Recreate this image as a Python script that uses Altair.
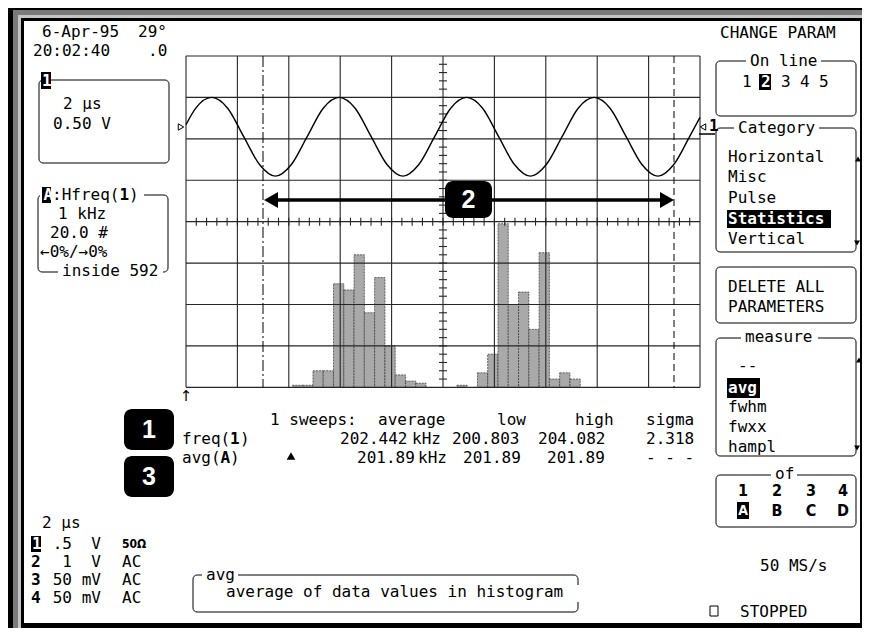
import altair as alt
import pandas as pd

# ---------------- values ----------------
# trace 1 : time in µs (2 µs/div) and amplitude in V (0.50 V/div)
trace_us = [0.00, 0.38, 1.00, 1.62, 2.24, 2.86, 3.48, 4.10, 4.72, 5.34, 5.96, 6.58, 7.20, 7.82,
            8.44, 9.06, 9.68, 10.30, 10.92, 11.54, 12.16, 12.78, 13.40, 14.02, 14.64, 15.26,
            15.88, 16.50, 17.12, 17.74, 18.36, 18.98, 19.60, 20.00]
trace_v = [0.17, 0.37, 0.50, 0.37, 0.03, -0.31, -0.45, -0.31, 0.03, 0.37, 0.50, 0.37, 0.03, -0.31,
           -0.45, -0.31, 0.03, 0.37, 0.50, 0.37, 0.03, -0.31, -0.45, -0.31, 0.03, 0.37,
           0.50, 0.37, 0.03, -0.31, -0.45, -0.31, 0.03, 0.26]

# histogram A = Hfreq(1): bin start (divisions), population (# , 20 #/div)
hist_bin = [2.07, 2.27, 2.47, 2.67, 2.87, 3.07, 3.27, 3.47, 3.67, 3.87, 4.07, 4.27, 4.47,
            5.27, 5.67, 5.87, 6.07, 6.27, 6.47, 6.67, 6.87, 7.07, 7.27, 7.47]
hist_count = [1, 1, 8, 8, 50, 47, 64, 36, 53, 20, 6, 3, 2,
              1, 7, 16, 79, 40, 46, 28, 65, 4, 7, 4]
BIN_W = 0.2

# statistics table
stat_header = ["1 sweeps:", "average", "low", "high", "sigma"]
freq_row = ["202.442", "kHz", "200.803", "204.082", "2.318"]
avg_row = ["201.89", "kHz", "201.89", "201.89", "- - -"]

# channel setup
ch_num = ["1", "2", "3", "4"]
ch_val = [".5", "1", "50", "50"]
ch_unit = ["V", "V", "mV", "mV"]
ch_cpl = ["50Ω", "AC", "AC", "AC"]

category_items = ["Horizontal", "Misc", "Pulse", "Statistics", "Vertical"]
measure_items = ["--", "avg", "fwhm", "fwxx", "hampl"]

# ---------------- layout (screen pixels) ----------------
FONT = "DejaVu Sans Mono"
SANS = "Liberation Sans, Arial, DejaVu Sans"
NARROW = "Liberation Sans Narrow, DejaVu Sans Condensed, DejaVu Sans"
GX0, GX1, GY0, GY1 = 186.0, 700.0, 56.0, 387.33
DX, DY = (GX1 - GX0) / 10, (GY1 - GY0) / 8
GMID = GY0 + 4 * DY
XC = GX0 + 5 * DX
ROW_H, ROW_F, ROW_A = 420, 439, 458

PX = alt.Scale(domain=[0, 870], range=[-8, 862], nice=False, zero=False)
PY = alt.Scale(domain=[0, 636], range=[-8, 628], nice=False, zero=False)


def enc_xy(extra2=False):
    d = dict(x=alt.X("x:Q", scale=PX, axis=None), y=alt.Y("y:Q", scale=PY, axis=None))
    if extra2:
        d["x2"] = alt.X2("x2:Q")
        d["y2"] = alt.Y2("y2:Q")
    return d


def boxes(rows, radius=0, sw=1.0):
    df = pd.DataFrame(rows, columns=["x", "y", "x2", "y2", "fill", "stroke"])
    return alt.Chart(df).mark_rect(cornerRadius=radius, strokeWidth=sw).encode(
        fill=alt.Fill("fill:N", scale=None), stroke=alt.Stroke("stroke:N", scale=None),
        **enc_xy(True))


def lines(rows, color="#000", width=1.0, dash=None):
    df = pd.DataFrame(rows, columns=["x", "y", "x2", "y2"])
    kw = dict(color=color, strokeWidth=width)
    if dash:
        kw["strokeDash"] = dash
    return alt.Chart(df).mark_rule(**kw).encode(**enc_xy(True))


def labels(rows, size=16, weight="normal", color="#000", align="left", font=FONT):
    df = pd.DataFrame(rows, columns=["x", "y", "t"])
    return alt.Chart(df).mark_text(font=font, fontSize=size, fontWeight=weight, color=color,
                                   align=align, baseline="middle").encode(
        text="t:N", **enc_xy())


def symbols(rows, shape, size, filled=True, color="#000"):
    df = pd.DataFrame(rows, columns=["x", "y"])
    return alt.Chart(df).mark_point(shape=shape, size=size, filled=filled, color=color,
                                    opacity=1, strokeWidth=1).encode(**enc_xy())


W, B = "#ffffff", "#000000"
T = "transparent"
layers = []

# frame of the screen
layers.append(boxes([
    (8, 5, 870, 636, B, T),
    (13, 10, 870, 636, "#7a7a7a", T),
    (18, 15, 870, 636, "#c4c4c4", T),
    (21, 18, 866, 630, B, T),
    (24, 21, 860, 623, W, T),
]))

# histogram (drawn under the graticule)
hist_df = pd.DataFrame({"lo": hist_bin, "hi": [b + BIN_W for b in hist_bin], "n": hist_count})
layers.append(alt.Chart(hist_df).mark_rect(fill="#a9a9a9", stroke="#2e2e2e", strokeWidth=0.7,
                                           strokeDash=[2, 1]).encode(
    x=alt.X("lo:Q", scale=alt.Scale(domain=[0, 10], range=[GX0 - 8, GX1 - 8], nice=False, zero=False), axis=None),
    x2="hi:Q",
    y=alt.Y("n:Q", scale=alt.Scale(domain=[0, 80], range=[GY1 - 8, GMID - 8], nice=False, zero=False), axis=None),
    y2=alt.datum(0),
))

# graticule
grid = [(GX0 + i * DX, GY0, GX0 + i * DX, GY1) for i in range(11)]
grid += [(GX0, GY0 + j * DY, GX1, GY0 + j * DY) for j in range(9)]
layers.append(lines(grid, color="#262626", width=1.1))
ticks = [(XC - 4, GY0 + k * DY / 5, XC + 4, GY0 + k * DY / 5) for k in range(1, 40)]
ticks += [(GX0 + k * DX / 5, GMID - 4, GX0 + k * DX / 5, GMID + 4) for k in range(1, 50)]
layers.append(lines(ticks, color="#262626", width=1.1))

# trace 1
layers.append(alt.Chart(pd.DataFrame({"t": trace_us, "v": trace_v})).mark_line(
    color="#000", strokeWidth=1.4, interpolate="monotone").encode(
    x=alt.X("t:Q", scale=alt.Scale(domain=[0, 20], range=[GX0 - 8, GX1 - 8], nice=False, zero=False), axis=None),
    y=alt.Y("v:Q", scale=alt.Scale(domain=[-1, 1], range=[GMID - 8, GY0 - 8], nice=False, zero=False), axis=None),
))

# cursors and the span arrow
layers.append(lines([(263, GY0, 263, GY1)], width=1, dash=[11, 3, 2, 3]))
layers.append(lines([(674, GY0, 674, GY1)], width=1, dash=[7, 4]))
layers.append(lines([(274, 200, 664, 200)], width=3.5))
layers.append(symbols([(271, 200)], "triangle-left", 260))
layers.append(symbols([(667, 200)], "triangle-right", 260))

# trigger / level markers
layers.append(symbols([(181, 127)], "triangle-right", 40, filled=False))
layers.append(symbols([(703, 127)], "triangle-left", 40, filled=False))
layers.append(lines([(699, 134, 715, 134)], width=1.5))
layers.append(labels([(186, 396, "↑")], size=15, align="center", font="DejaVu Sans"))

# boxes with rounded corners
layers.append(boxes([
    (39, 80, 169, 163, T, B),
    (38, 195, 168, 272, T, B),
    (716, 61, 856, 116, T, B),
    (716, 128, 856, 252, T, B),
    (716, 267, 856, 323, T, B),
    (716, 338, 856, 456, T, B),
    (716, 475, 856, 527, T, B),
    (193, 575, 578, 612, T, B),
], radius=4))
# title gaps in the borders
layers.append(boxes([
    (40, 186, 144, 203, W, T),
    (58, 265, 163, 279, W, T),
    (746, 54, 821, 68, W, T),
    (734, 121, 819, 135, W, T),
    (741, 330, 818, 344, W, T),
    (771, 467, 797, 481, W, T),
    (202, 568, 238, 582, W, T),
    (575, 585, 581, 602, W, T),
]))
# inverse-video cells
layers.append(boxes([
    (41, 72, 51, 89, B, T),
    (42, 187, 51, 203, B, T),
    (759, 74, 771, 90, B, T),
    (727, 210, 831, 228, B, T),
    (727, 378, 760, 398, B, T),
    (737, 502, 749, 519, B, T),
    (31, 536, 41, 552, B, T),
]))
layers.append(boxes([(710, 606, 718, 616, W, B)]))
# numbered call-outs
layers.append(boxes([
    (124, 409, 174, 450, B, T),
    (124, 456, 174, 497, B, T),
    (445, 181, 492, 218, B, T),
], radius=8))
layers.append(labels([(149, 430, "1"), (149, 477, "3"), (468.5, 200, "2")],
                     size=25, weight="bold", color=W, align="center", font=SANS))

# plain text
mono = [
    ("6-Apr-95", 42, 32), ("29°", 138, 32), ("20:02:40", 33, 51), (".0", 148, 51),
    ("2 µs", 63, 104), ("0.50 V", 53, 124),
    (":Hfreq(", 52, 195), (")", 129, 195),
    ("1 kHz", 58, 214), ("20.0 #", 50, 233), ("←0%/→0%", 40, 252), ("inside 592", 62, 271),
    ("freq(", 182, ROW_F), (")", 240, ROW_F), ("avg(", 182, ROW_A), (")", 230, ROW_A),
    ("2 µs", 42, 523),
    ("avg", 206, 575), ("average of data values in histogram", 226, 592),
    ("CHANGE PARAM", 720, 33), ("On line", 750, 61),
    ("1", 742, 82), ("3", 781, 82), ("4", 800, 82), ("5", 819, 82),
    ("Category", 738, 128), ("DELETE ALL", 728, 287), ("PARAMETERS", 728, 307),
    ("measure", 745, 337), ("of", 775, 474), ("50 MS/s", 760, 566), ("STOPPED", 740, 612),
]
for txt, xx in zip(stat_header, [270, 378, 497, 575, 646]):
    mono.append((txt, xx, ROW_H))
for txt, xx in zip(freq_row, [340, 412, 452, 538, 646]):
    mono.append((txt, xx, ROW_F))
for txt, xx in zip(avg_row, [357, 418, 463, 547, 646]):
    mono.append((txt, xx, ROW_A))
cat_y = [157, 177, 198, 219, 239]
for txt, yy in zip(category_items, cat_y):
    if txt != "Statistics":
        mono.append((txt, 728, yy))
mea_y = [366, 388, 407, 427, 447]
for txt, yy in zip(measure_items, mea_y):
    if txt == "--":
        mono.append((txt, 738, yy))
    elif txt != "avg":
        mono.append((txt, 728, yy))
row_y = [544, 562, 580, 598]
for c, yy in zip(ch_cpl[1:], row_y[1:]):
    mono.append((c, 122, yy))
layers.append(labels([(x, y, t) for t, x, y in mono]))
layers.append(labels([(72, yy, v) for v, yy in zip(ch_val, row_y)] +
                     [(101, yy, u) for u, yy in zip(ch_unit, row_y)], align="right"))
layers.append(labels([(122, row_y[0], ch_cpl[0])], size=12, weight="bold", font=NARROW))

# bold text
layers.append(labels([(230, ROW_F, "1"), (220.5, ROW_A, "A"), (119.5, 195, "1"), (709, 126, "1")] +
                     [(31, yy, n) for n, yy in zip(ch_num[1:], row_y[1:])], weight="bold"))
layers.append(labels([(42, 81, "1"), (43.5, 195, "A"), (761, 82, "2"), (728, 219, "Statistics"),
                      (728, 388, "avg"), (32, 544, ch_num[0])], weight="bold", color=W))
layers.append(labels([(743, 491, "1"), (777, 491, "2"), (811, 491, "3"), (843, 491, "4"),
                      (777, 511, "B"), (811, 511, "C"), (843, 511, "D")],
                     size=16, weight="bold", align="center", font=NARROW))
layers.append(labels([(743, 511, "A")], size=14, weight="bold", align="center", color=W, font=NARROW))

# scroll indicators and the small histogram icon
layers.append(symbols([(858, 159), (859, 360)], "triangle-up", 35))
layers.append(symbols([(857, 243), (857, 448)], "triangle-down", 35))
layers.append(symbols([(291, ROW_A - 2)], "triangle-up", 75))

chart = alt.layer(*layers).resolve_scale(x="independent", y="independent").properties(
    width=854, height=620, padding=0, autosize=alt.AutoSizeParams(type="none")
).configure_view(strokeWidth=0)

chart.save("out.html", embed_options={"renderer": "svg", "actions": False})
